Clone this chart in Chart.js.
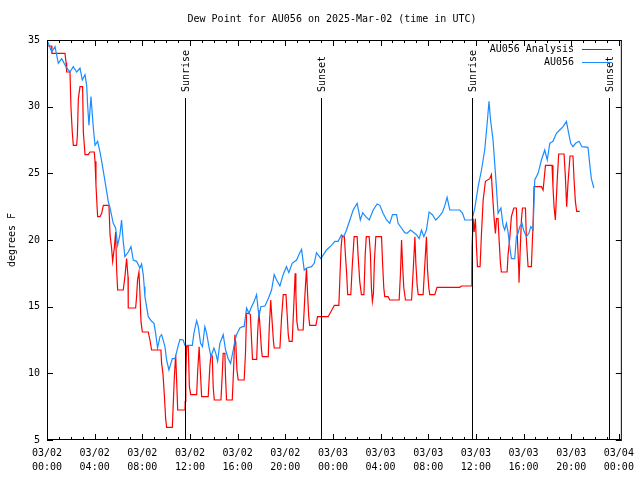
<!DOCTYPE html>
<html>
<head>
<meta charset="utf-8">
<script src="https://cdn.jsdelivr.net/npm/chart.js@4"></script>
<style>
  body { margin: 0; background: #fff; }
  canvas { display: block; }
</style>
</head>
<body>
<canvas id="c" width="640" height="480"></canvas>
<script>
// hours since 03/02 00:00 UTC
var obsHours = [0,0.4,0.67,0.95,1.23,1.65,1.93,2.2,2.49,2.77,2.96,3.19,3.33,3.41,3.52,3.69,3.89,4.03,4.25,4.45,4.59,4.87,5.14,5.29,5.56,5.76,5.93,6.12,6.26,6.4,6.54,6.82,7.05,7.24,7.52,7.8,7.94,8.08,8.16,8.22,8.5,8.78,8.98,9.12,9.28,9.48,9.62,9.9,10.04,10.23,10.4,10.52,10.74,11.02,11.16,11.43,11.58,11.86,12.2,12.33,12.56,12.7,12.89,13.05,13.25,13.4,13.59,13.76,14.01,14.17,14.32,14.51,14.79,14.99,15.21,15.41,15.63,15.77,15.91,16.19,16.4,16.55,16.75,16.95,17.17,17.39,17.59,17.79,17.95,18.29,18.57,18.85,19.07,19.27,19.55,19.82,20.1,20.3,20.58,20.95,21.14,21.37,21.59,21.8,22.2,22.43,22.62,22.99,23.2,23.46,23.88,24.16,24.44,24.72,24.9,25.14,25.42,25.7,26.03,26.2,26.3,26.5,26.76,27.05,27.38,27.71,27.94,28.21,28.5,28.77,29.0,29.34,29.47,29.75,30.03,30.22,30.51,30.73,31.01,31.24,31.43,31.63,31.85,32.07,32.35,32.63,32.91,33.2,33.4,33.58,33.81,34.23,34.65,34.88,35.07,35.68,35.91,36.19,36.47,36.74,36.97,37.1,37.23,37.44,37.58,37.72,37.86,38.1,38.28,38.42,38.56,38.7,38.84,38.98,39.26,39.4,39.54,39.68,39.87,40.0,40.24,40.45,40.61,40.8,40.94,41.22,41.5,41.78,41.99,42.2,42.47,42.76,43.04,43.32,43.6,43.79,43.96,44.15,44.37,44.66,44.9,45.41,45.55,45.69,45.9];
var obsValues = [35.0,34.1,34.5,33.25,33.6,32.9,32.6,33.0,32.6,32.9,32.0,32.4,31.6,30.1,28.6,30.75,28.4,27.1,27.4,26.6,25.9,24.4,22.9,22.4,21.25,20.9,19.6,20.4,21.5,19.9,18.75,19.1,19.5,18.5,18.4,17.9,18.2,17.4,16.5,15.75,14.25,13.9,13.75,13.0,11.9,12.75,12.9,12.0,11.0,10.25,10.75,11.1,11.1,12.1,12.55,12.5,12.1,12.1,12.1,13.0,13.95,13.5,12.25,12.0,13.5,13.0,12.0,11.25,11.9,11.5,10.9,12.25,12.9,11.75,11.1,10.75,11.75,12.4,12.9,13.4,13.5,13.5,14.9,14.5,15.0,15.4,15.9,14.25,15.0,15.05,15.6,16.25,17.4,17.0,16.55,17.4,18.0,17.55,18.25,18.5,18.9,19.3,17.75,17.9,18.0,18.25,19.05,18.6,18.9,19.25,19.6,19.9,19.9,20.4,20.25,20.75,21.5,22.25,22.75,22.0,21.5,22.05,21.75,21.5,22.25,22.7,22.6,22.0,21.5,21.25,21.9,21.9,21.25,20.9,20.55,20.5,20.75,20.6,20.4,20.1,20.75,20.25,20.75,22.1,21.9,21.5,21.75,22.1,22.6,23.2,22.25,22.25,22.25,22.0,21.5,21.5,22.4,24.0,25.25,26.75,29.0,30.4,29.0,27.5,25.75,24.0,22.0,22.4,21.1,20.75,21.25,20.6,19.5,18.6,18.6,20.25,20.5,21.0,21.25,20.75,20.25,20.5,21.0,20.75,24.5,25.0,26.0,26.75,26.0,27.25,27.4,28.0,28.25,28.5,28.9,28.0,27.25,27.0,27.25,27.4,27.0,26.95,25.75,24.6,23.9];

var anaHours = [0,0.39,0.41,1.51,1.6,1.65,1.93,2.01,2.12,2.21,2.49,2.55,2.63,2.77,2.99,3.05,3.19,3.47,3.61,3.97,4.03,4.11,4.25,4.45,4.59,4.73,5.2,5.29,5.42,5.51,5.65,5.76,5.84,5.93,6.4,6.54,6.68,6.8,6.82,7.44,7.52,7.6,7.72,7.8,7.89,8.0,8.5,8.64,8.78,9.56,9.62,9.73,9.84,9.96,10.04,10.52,10.6,10.69,10.8,10.88,10.97,11.58,11.6,11.65,11.72,11.86,11.95,12.06,12.56,12.65,12.77,12.87,12.98,13.53,13.67,13.76,13.87,13.95,14.04,14.6,14.71,14.79,14.93,14.99,15.07,15.55,15.66,15.77,15.85,15.94,16.05,16.55,16.66,16.75,16.97,17.07,17.17,17.25,17.6,17.68,17.79,17.88,18.0,18.07,18.57,18.66,18.78,18.85,19.0,19.07,19.55,19.69,19.83,20.06,20.17,20.25,20.33,20.58,20.72,20.83,20.89,20.97,21.08,21.5,21.64,21.78,21.87,21.97,22.05,22.57,22.71,23.6,24.12,24.5,24.6,24.69,24.77,24.96,25.04,25.15,25.24,25.5,25.62,25.78,26.03,26.11,26.25,26.39,26.6,26.71,26.8,27.04,27.15,27.23,27.31,27.4,27.48,27.6,28.08,28.16,28.27,28.35,28.63,28.77,29.56,29.67,29.76,29.84,29.95,30.09,30.6,30.74,30.88,30.96,31.07,31.16,31.57,31.71,31.85,31.94,32.05,32.13,32.55,32.74,34.65,34.79,35.63,35.66,35.68,35.77,35.85,35.96,36.05,36.13,36.35,36.47,36.61,36.8,37.16,37.3,37.39,37.53,37.64,37.73,37.86,37.95,38.06,38.14,38.62,38.7,38.84,38.98,39.18,39.4,39.49,39.6,39.62,39.71,39.82,39.91,40.16,40.24,40.38,40.66,40.8,40.88,41.5,41.64,41.84,42.39,42.47,42.56,42.67,42.76,42.84,42.95,43.4,43.51,43.62,43.73,43.9,44.15,44.24,44.35,44.46,44.72];
var anaValues = [34.55,34.55,34.0,34.0,33.3,32.6,32.6,30.0,28.1,27.1,27.1,27.85,30.6,31.5,31.5,28.1,26.4,26.4,26.6,26.6,25.9,24.1,21.75,21.75,22.0,22.6,22.6,20.4,19.4,18.4,19.4,20.6,17.9,16.25,16.25,17.25,18.6,17.25,14.9,14.9,15.75,17.0,17.6,16.0,13.9,13.1,13.1,12.5,11.75,11.75,10.75,10.0,8.5,6.6,5.95,5.95,7.75,9.75,11.4,9.5,7.25,7.25,7.9,9.75,12.0,12.0,9.0,8.4,8.4,10.2,12.0,10.2,8.25,8.25,10.5,11.4,11.3,9.0,8.0,8.0,9.9,11.5,11.5,9.6,8.0,8.0,10.25,12.9,12.25,10.25,9.5,9.5,11.5,14.5,14.5,14.4,12.5,11.05,11.05,13.0,14.75,13.5,11.8,11.25,11.25,13.5,15.5,14.5,12.5,11.9,11.9,14.2,15.9,15.9,14.2,12.9,12.4,12.4,15.2,17.5,16.0,13.9,13.25,13.25,15.7,17.9,16.0,14.25,13.6,13.6,14.25,14.25,15.1,15.1,17.5,19.5,20.25,20.25,19.0,17.5,15.9,15.9,18.0,20.25,20.25,18.9,16.9,15.9,15.9,18.9,20.25,20.25,18.9,16.4,15.4,16.0,18.4,20.25,20.25,18.4,16.4,15.75,15.75,15.5,15.5,17.5,20.0,18.25,16.4,15.5,15.5,17.75,20.25,18.25,16.6,15.9,15.9,18.1,20.25,17.75,16.4,15.9,15.9,16.45,16.45,16.55,16.55,17.5,19.5,21.6,20.6,21.6,19.5,18.0,18.0,20.5,23.0,24.4,24.6,24.9,23.5,21.6,20.5,21.6,21.6,20.0,18.25,17.6,17.6,18.9,20.1,21.75,22.4,22.4,20.0,17.75,16.8,19.0,21.5,22.4,22.4,20.0,18.0,18.0,21.25,24.0,24.0,23.75,25.6,25.6,24.0,22.5,21.5,23.25,24.75,26.45,26.45,24.75,22.5,24.25,26.3,26.3,24.5,22.9,22.15,22.15];

var tickDates = ['03/02','03/02','03/02','03/02','03/02','03/02','03/03','03/03','03/03','03/03','03/03','03/03','03/04'];
var tickTimes = ['00:00','04:00','08:00','12:00','16:00','20:00','00:00','04:00','08:00','12:00','16:00','20:00','00:00'];
var yTicks = [5,10,15,20,25,30,35];

var eventNames = ['Sunrise','Sunset','Sunrise','Sunset'];
var eventHours = [11.6, 23.0, 35.68, 47.15];

var FONT = '10px "DejaVu Sans Mono", "Liberation Mono", monospace';

function toPoints(xs, ys) {
  return xs.map(function(x, i) { return { x: x, y: ys[i] }; });
}

// gnuplot-ish frame: border, inward ticks, event lines, key, title
var framePlugin = {
  id: 'frame',
  afterDatasetsDraw: function(chart) {
    var ctx = chart.ctx, a = chart.chartArea;
    var xs = chart.scales.x, ys = chart.scales.y;
    ctx.save();
    ctx.strokeStyle = '#000';
    ctx.fillStyle = '#000';
    ctx.lineWidth = 1;

    ctx.beginPath();
    for (var h = 0; h <= 48; h++) {
      var px = Math.round(xs.getPixelForValue(h)) + 0.5;
      var len = h % 4 === 0 ? 6 : 3;
      ctx.moveTo(px, a.bottom); ctx.lineTo(px, a.bottom - len);
      ctx.moveTo(px, a.top); ctx.lineTo(px, a.top + len);
    }
    yTicks.forEach(function(v) {
      var py = Math.round(ys.getPixelForValue(v)) + 0.5;
      ctx.moveTo(a.left, py); ctx.lineTo(a.left + 6, py);
      ctx.moveTo(a.right, py); ctx.lineTo(a.right - 6, py);
    });
    ctx.stroke();

    // sunrise / sunset markers
    ctx.font = FONT;
    eventHours.forEach(function(h, i) {
      var px = Math.round(xs.getPixelForValue(h)) + 0.5;
      ctx.beginPath();
      ctx.moveTo(px, 98); ctx.lineTo(px, a.bottom);
      ctx.stroke();
      ctx.save();
      ctx.translate(px + 1, 92);
      ctx.rotate(-Math.PI / 2);
      ctx.textAlign = 'left';
      ctx.textBaseline = 'middle';
      ctx.fillText(eventNames[i], 0, 0);
      ctx.restore();
    });

    ctx.strokeRect(a.left + 0.5, a.top + 0.5, a.right - a.left - 1, a.bottom - a.top - 1);

    // key
    ctx.textAlign = 'right';
    ctx.textBaseline = 'middle';
    chart.data.datasets.forEach(function(ds, i) {
      var y = 49.5 + i * 13;
      ctx.fillStyle = '#000';
      ctx.fillText(ds.label, 574, y);
      ctx.strokeStyle = ds.borderColor;
      ctx.beginPath();
      ctx.moveTo(582, y); ctx.lineTo(612, y);
      ctx.stroke();
    });

    ctx.fillStyle = '#000';
    ctx.textAlign = 'center';
    ctx.fillText('Dew Point for AU056 on 2025-Mar-02 (time in UTC)', 332, 19);

    ctx.save();
    ctx.translate(12, 240);
    ctx.rotate(-Math.PI / 2);
    ctx.fillText('degrees F', 0, 0);
    ctx.restore();
    ctx.restore();
  }
};

new Chart(document.getElementById('c'), {
  type: 'line',
  data: {
    datasets: [{
      label: 'AU056 Analysis',
      data: toPoints(anaHours, anaValues),
      borderColor: '#ff0000',
      borderWidth: 1.2,
      pointRadius: 0,
      tension: 0,
      order: 2
    }, {
      label: 'AU056',
      data: toPoints(obsHours, obsValues),
      borderColor: '#1a8cff',
      borderWidth: 1.2,
      pointRadius: 0,
      tension: 0,
      order: 1
    }]
  },
  options: {
    responsive: false,
    animation: false,
    devicePixelRatio: 1,
    layout: { padding: { top: 40, right: 18, left: 0, bottom: 0 } },
    plugins: { legend: { display: false }, tooltip: { enabled: false }, title: { display: false } },
    scales: {
      x: {
        type: 'linear', min: 0, max: 48.25,
        afterFit: function(s) { s.height = 40; },
        grid: { display: false, drawTicks: false },
        border: { display: false },
        ticks: {
          stepSize: 4, includeBounds: false, autoSkip: false, maxRotation: 0, padding: 6,
          color: '#000', font: { family: '"DejaVu Sans Mono", monospace', size: 10, lineHeight: 1.4 },
          callback: function(v) {
            var i = v / 4;
            return tickDates[i] ? [tickDates[i], tickTimes[i]] : '';
          }
        }
      },
      y: {
        min: 5, max: 35,
        afterFit: function(s) { s.width = 47; },
        grid: { display: false, drawTicks: false },
        border: { display: false },
        ticks: {
          stepSize: 5, padding: 7, color: '#000',
          font: { family: '"DejaVu Sans Mono", monospace', size: 10 }
        }
      }
    }
  },
  plugins: [framePlugin]
});
</script>
</body>
</html>
